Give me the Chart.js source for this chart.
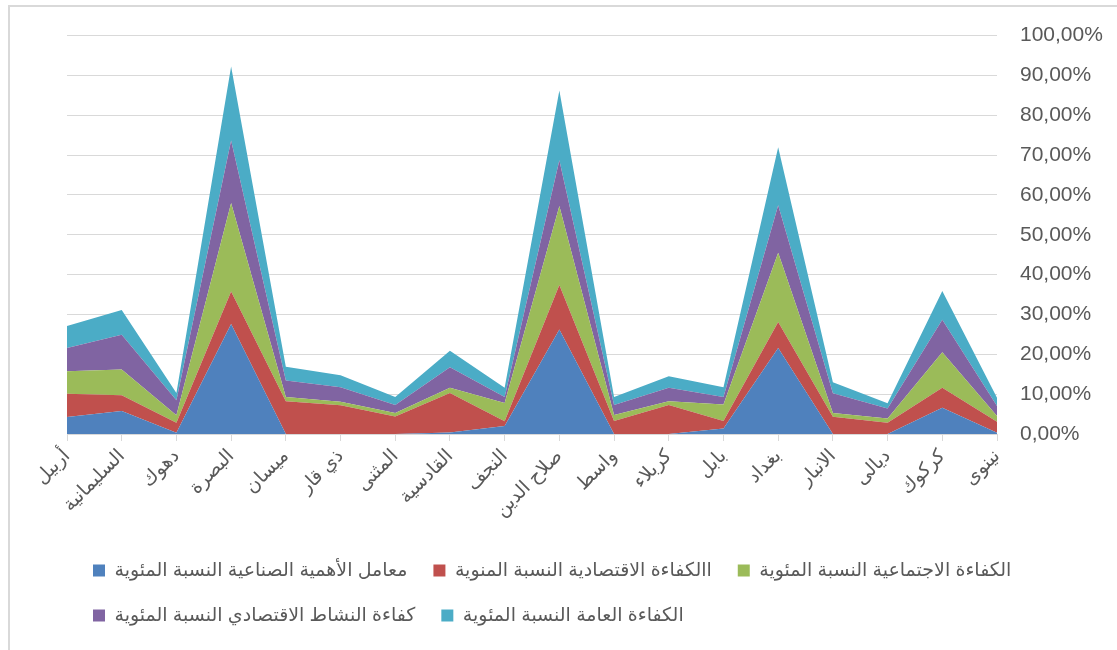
<!DOCTYPE html>
<html>
<head>
<meta charset="utf-8">
<script src="https://cdn.jsdelivr.net/npm/chart.js@4"></script>
<style>
  body { margin: 0; background: #fff; }
  #wrap { position: relative; width: 1117px; height: 650px; overflow: hidden; }
  #frame { position: absolute; left: 8px; top: 5px; width: 1200px; height: 700px; border: 2px solid #d9d9d9; box-sizing: border-box; }
  #box { position: absolute; left: 0; top: 0; width: 1117px; height: 650px; }
</style>
</head>
<body>
<div id="wrap">
  <div id="frame"></div>
  <div id="box"><canvas id="chart"></canvas></div>
</div>
<script>
// المحافظات
const categories = ['أربيل', 'السليمانية', 'دهوك', 'البصرة', 'ميسان', 'ذي قار', 'المثنى', 'القادسية', 'النجف',
  'صلاح الدين', 'واسط', 'كربلاء', 'بابل', 'بغداد', 'الانبار', 'ديالى', 'كركوك', 'نينوى'];

const seriesNames = [
  'معامل الأهمية الصناعية النسبة المئوية',
  'االكفاءة الاقتصادية النسبة المنوية',
  'الكفاءة الاجتماعية النسبة المئوية',
  'كفاءة النشاط الاقتصادي النسبة المئوية',
  'الكفاءة العامة النسبة المئوية'
];

// values in percent
const industrial = [4.25, 5.75, 0.3, 27.6, 0, 0, 0, 0.4, 2.0, 26.2, 0, 0, 1.4, 21.6, 0, 0, 6.6, 0.3];
const economic = [5.85, 4.0, 2.5, 8.15, 8.25, 7.2, 4.4, 9.9, 1.2, 11.2, 3.25, 7.25, 1.85, 6.5, 4.3, 2.8, 5.0, 2.8];
const social = [5.65, 6.45, 1.9, 22.25, 1.05, 0.9, 0.85, 1.3, 4.6, 19.8, 1.5, 1.0, 4.15, 17.4, 1.0, 1.1, 8.9, 1.4];
const activity = [5.85, 8.7, 3.8, 15.7, 4.1, 3.65, 2.0, 5.15, 1.5, 11.5, 2.5, 3.35, 1.9, 11.9, 4.9, 2.5, 8.2, 2.5];
const general = [5.5, 6.2, 1.8, 18.55, 3.5, 3.0, 2.05, 4.15, 2.3, 17.5, 2.05, 2.9, 2.45, 14.6, 2.8, 1.3, 7.2, 2.1];

const yTicks = [0, 10, 20, 30, 40, 50, 60, 70, 80, 90, 100];

const colors = ['#4F81BD', '#C0504D', '#9BBB59', '#8064A2', '#4BACC6'];
const allSeries = [industrial, economic, social, activity, general];

const fontFam = '"Liberation Sans", Arial, "DejaVu Sans", sans-serif';
const txt = '#595959';

const datasets = allSeries.map((vals, i) => ({
  label: seriesNames[i],
  data: vals,
  backgroundColor: colors[i],
  borderColor: colors[i],
  borderWidth: 0,
  pointRadius: 0,
  tension: 0,
  fill: i === 0 ? 'origin' : '-1'
}));

new Chart(document.getElementById('chart'), {
  type: 'line',
  data: { labels: categories, datasets: datasets },
  options: {
    responsive: true,
    maintainAspectRatio: false,
    animation: false,
    layout: { padding: { left: 67, top: 34, right: 0, bottom: 15 } },
    plugins: {
      tooltip: { enabled: false },
      legend: {
        position: 'bottom',
        align: 'start',
        labels: {
          boxWidth: 12,
          boxHeight: 12,
          padding: 26,
          color: txt,
          font: { family: fontFam, size: 19 }
        }
      }
    },
    scales: {
      x: {
        offset: false,
        grid: { drawOnChartArea: false, drawTicks: true, tickLength: 7, color: '#d9d9d9' },
        border: { color: '#d9d9d9' },
        ticks: {
          autoSkip: false,
          maxRotation: 45,
          minRotation: 45,
          padding: 4,
          color: txt,
          font: { family: fontFam, size: 19 }
        },
        afterFit: (s) => { s.height = 101; s.paddingLeft = 0; s.paddingRight = 0; }
      },
      y: {
        position: 'right',
        stacked: true,
        min: 0,
        max: 100,
        afterBuildTicks: (s) => { s.ticks = yTicks.map(v => ({ value: v })); },
        grid: { color: '#d9d9d9', drawTicks: false },
        border: { display: false },
        ticks: {
          padding: 23,
          color: txt,
          font: { family: fontFam, size: 21 },
          callback: (v) => v.toFixed(2).replace('.', ',') + '%'
        },
        afterFit: (s) => { s.width = 120; }
      }
    }
  }
});
</script>
</body>
</html>
